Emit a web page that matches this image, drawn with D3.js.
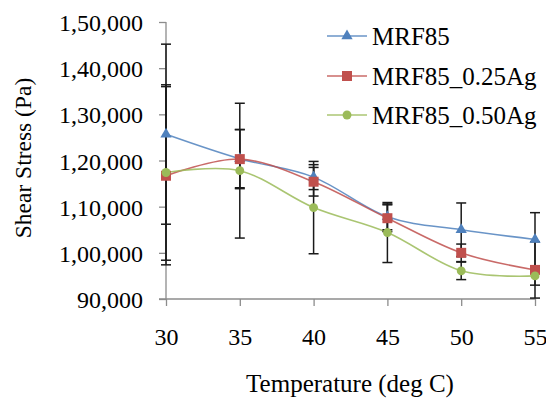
<!DOCTYPE html>
<html>
<head>
<meta charset="utf-8">
<script src="https://cdn.jsdelivr.net/npm/d3@7"></script>
<style>
  body { margin: 0; background: #fff; }
  text { font-family: "Liberation Serif", "Times New Roman", serif; fill: #000; }
</style>
</head>
<body>
<script>
// chart values
let temps = [30, 35, 40, 45, 50, 55]
let mrf85 = [125700, 120400, 116400, 107800, 105000, 102900]
let mrf85Err = [19500, 6300, 2700, 2800, 5800, 5800]
let ag025 = [116700, 120300, 115400, 107500, 100000, 96300]
let ag025Err = [19300, 6400, 3100, 2900, 1900, 6100]
let ag050 = [117400, 117800, 109800, 104400, 96100, 95000]
let ag050Err = [19000, 14600, 10000, 6500, 1900, 2000]
let yTicks = [90000, 100000, 110000, 120000, 130000, 140000, 150000]
let yTickLabels = ["90,000", "1,00,000", "1,10,000", "1,20,000", "1,30,000", "1,40,000", "1,50,000"]
let seriesNames = ["MRF85", "MRF85_0.25Ag", "MRF85_0.50Ag"]

let width = 546
let height = 398

let series = [
    {name: seriesNames[0], values: mrf85, err: mrf85Err, color: "#4F81BD", marker: "triangle"},
    {name: seriesNames[1], values: ag025, err: ag025Err, color: "#C0504D", marker: "square"},
    {name: seriesNames[2], values: ag050, err: ag050Err, color: "#9BBB59", marker: "circle"}
]

let svg = d3.select("body")
            .append("svg")
            .attr("width", width)
            .attr("height", height)

let xScale = d3.scaleLinear()
                .domain([30, 55])
                .range([166, 535])

let yScale = d3.scaleLinear()
                .domain([90000, 150000])
                .range([299, 22])

// axes
let xAxis = d3.axisBottom(xScale)
                .tickValues(temps)
                .tickSize(7)
                .tickFormat(d3.format("d"))

let yAxis = d3.axisLeft(yScale)
                .tickValues(yTicks)
                .tickSize(7)
                .tickFormat((d, i) => yTickLabels[i])

let gx = svg.append("g")
            .attr("id", "x-axis")
            .attr("transform", "translate(0," + yScale(90000) + ")")
            .call(xAxis)

let gy = svg.append("g")
            .attr("id", "y-axis")
            .attr("transform", "translate(" + xScale(30) + ",0)")
            .call(yAxis)

gx.select(".domain").attr("d", "M" + (xScale(30) - 7) + ",0H" + (xScale(55) + 1))
gy.select(".domain").attr("d", "M0," + yScale(90000) + "V" + yScale(150000))

svg.selectAll("#x-axis .domain, #y-axis .domain, #x-axis .tick line, #y-axis .tick line")
    .attr("stroke", "#8c8c8c")
    .attr("stroke-width", 1.3)

gx.selectAll(".tick text")
    .attr("y", 0)
    .attr("dy", 0)
    .attr("transform", "translate(0,46)")
    .style("font-size", "24px")

gy.selectAll(".tick text")
    .attr("x", -23)
    .attr("dy", "0.36em")
    .style("font-size", "24px")

svg.append("text")
    .attr("x", 350)
    .attr("y", 392)
    .attr("text-anchor", "middle")
    .style("font-size", "25px")
    .text("Temperature (deg C)")

svg.append("text")
    .attr("transform", "translate(31,158) rotate(-90)")
    .attr("text-anchor", "middle")
    .style("font-size", "23.5px")
    .text("Shear Stress (Pa)")

// lines
let line = d3.line()
            .x((d, i) => xScale(temps[i]))
            .y((d) => yScale(d))
            .curve(d3.curveCardinal.tension(0))

svg.selectAll(".series-line")
    .data(series)
    .enter()
    .append("path")
    .attr("class", "series-line")
    .attr("d", (s) => line(s.values))
    .attr("fill", "none")
    .attr("stroke", (s) => s.color)
    .attr("stroke-width", 1.6)
    .attr("stroke-opacity", 0.85)

// error bars
let bars = []
series.forEach((s) => {
    s.values.forEach((v, i) => {
        bars.push({x: temps[i], lo: v - s.err[i], hi: v + s.err[i]})
    })
})

let barG = svg.append("g").attr("stroke", "#1a1a1a").attr("stroke-width", 1.5)
barG.selectAll(".stem")
    .data(bars)
    .enter()
    .append("line")
    .attr("x1", (b) => xScale(b.x))
    .attr("x2", (b) => xScale(b.x))
    .attr("y1", (b) => yScale(b.lo))
    .attr("y2", (b) => yScale(b.hi))
barG.selectAll(".cap-hi")
    .data(bars)
    .enter()
    .append("line")
    .attr("x1", (b) => xScale(b.x) - 5)
    .attr("x2", (b) => xScale(b.x) + 5)
    .attr("y1", (b) => yScale(b.hi))
    .attr("y2", (b) => yScale(b.hi))
barG.selectAll(".cap-lo")
    .data(bars)
    .enter()
    .append("line")
    .attr("x1", (b) => xScale(b.x) - 5)
    .attr("x2", (b) => xScale(b.x) + 5)
    .attr("y1", (b) => yScale(b.lo))
    .attr("y2", (b) => yScale(b.lo))

// markers
let symbolFor = {
    triangle: d3.symbol().type(d3.symbolTriangle).size(55),
    square: d3.symbol().type(d3.symbolSquare).size(100),
    circle: d3.symbol().type(d3.symbolCircle).size(62)
}

series.forEach((s) => {
    svg.append("g")
        .selectAll("path")
        .data(s.values)
        .enter()
        .append("path")
        .attr("d", symbolFor[s.marker]())
        .attr("transform", (d, i) => "translate(" + xScale(temps[i]) + "," + yScale(d) + ")")
        .attr("fill", s.color)
})

// legend
let legendY = [36, 76, 115]
let legend = svg.append("g")
series.forEach((s, i) => {
    legend.append("line")
        .attr("x1", 327)
        .attr("x2", 367)
        .attr("y1", legendY[i])
        .attr("y2", legendY[i])
        .attr("stroke", s.color)
        .attr("stroke-width", 1.6)
        .attr("stroke-opacity", 0.85)
    legend.append("path")
        .attr("d", symbolFor[s.marker]())
        .attr("transform", "translate(347," + legendY[i] + ")")
        .attr("fill", s.color)
    legend.append("text")
        .attr("x", 372)
        .attr("y", legendY[i])
        .attr("dy", "0.35em")
        .style("font-size", "25px")
        .text(s.name)
})
</script>
</body>
</html>
